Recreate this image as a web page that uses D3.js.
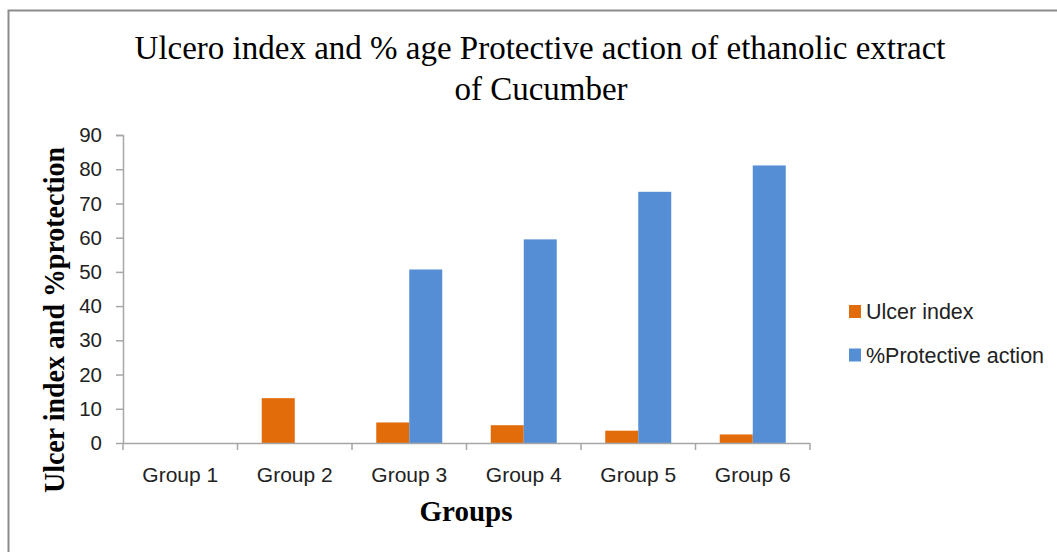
<html>
<head>
  <meta charset="UTF-8">
  <title>Ulcer index chart</title>
  <script src="https://cdn.jsdelivr.net/npm/d3@7"></script>
  <style>
    body { margin: 0; background: #fff; }
  </style>
</head>
<body>
  <svg id="chart" width="1057" height="552"></svg>
  <script>
  // ---------------------------------------------------
  // Donnees
  // ---------------------------------------------------
  var groups = ["Group 1", "Group 2", "Group 3", "Group 4", "Group 5", "Group 6"];
  var ulcerIndex = [0, 13.1, 6.0, 5.2, 3.6, 2.5];
  var protective = [0, 0, 50.7, 59.5, 73.4, 81.1];
  var seriesNames = ["Ulcer index", "%Protective action"];
  var seriesColors = ["#E36C0A", "#558ED5"];
  var yTicks = [0, 10, 20, 30, 40, 50, 60, 70, 80, 90];

  var sans = "'Liberation Sans', Arial, sans-serif";
  var serif = "'Liberation Serif', 'Times New Roman', serif";

  var svg = d3.select("#chart");

  // cadre
  svg.append("path")
    .attr("d", "M8.5,552 L8.5,10.5 L1057,10.5")
    .attr("fill", "none")
    .attr("stroke", "#8c8c8c")
    .attr("stroke-width", 2);

  var x = d3.scaleBand().domain(groups).range([123, 810]);
  var y = d3.scaleLinear().domain([0, 90]).range([443, 135]);

  // titre
  var title = svg.append("text")
    .attr("text-anchor", "middle")
    .style("font-family", serif)
    .style("font-size", "33px")
    .attr("fill", "#000");
  title.append("tspan").attr("x", 540).attr("y", 59)
    .text("Ulcero index and % age Protective action of ethanolic extract");
  title.append("tspan").attr("x", 541).attr("y", 100)
    .text("of  Cucumber");

  // barres
  var bw = 33;
  groups.forEach(function (g, i) {
    var cx = x(g) + x.bandwidth() / 2;
    [ulcerIndex[i], protective[i]].forEach(function (v, s) {
      if (v <= 0) return;
      svg.append("rect")
        .attr("x", cx - bw + s * bw)
        .attr("y", y(v))
        .attr("width", bw)
        .attr("height", y(0) - y(v))
        .attr("fill", seriesColors[s]);
    });
  });

  // axes
  var yAxis = svg.append("g")
    .attr("transform", "translate(123,0)")
    .call(d3.axisLeft(y).tickValues(yTicks).tickSize(7).tickPadding(14));
  var xAxis = svg.append("g")
    .attr("transform", "translate(0,443)")
    .call(d3.axisBottom(x).tickSize(0).tickPadding(24));

  // graduations entre groupes
  xAxis.selectAll(".sep")
    .data(d3.range(groups.length + 1))
    .enter().append("line")
    .attr("class", "sep")
    .attr("x1", function (d) { return 123 + d * x.step(); })
    .attr("x2", function (d) { return 123 + d * x.step(); })
    .attr("y1", 0).attr("y2", 7);

  svg.selectAll(".domain, .tick line, .sep")
    .attr("stroke", "#a6a6a6")
    .attr("stroke-width", 1.5);
  xAxis.select(".domain").attr("d", "M123,0.5H810");
  yAxis.select(".domain").attr("d", "M-7,135.5H0.5V443");

  yAxis.selectAll(".tick text")
    .style("font-family", sans)
    .style("font-size", "20.5px")
    .attr("fill", "#222");
  xAxis.selectAll(".tick text")
    .style("font-family", sans)
    .style("font-size", "21px")
    .attr("fill", "#222");

  // titres d'axes
  svg.append("text")
    .attr("x", 466).attr("y", 521)
    .attr("text-anchor", "middle")
    .style("font-family", serif)
    .style("font-weight", "bold")
    .style("font-size", "29px")
    .text("Groups");

  svg.append("text")
    .attr("transform", "translate(64,320) rotate(-90)")
    .attr("text-anchor", "middle")
    .attr("textLength", 346)
    .attr("lengthAdjust", "spacingAndGlyphs")
    .style("font-family", serif)
    .style("font-weight", "bold")
    .style("font-size", "29px")
    .text("Ulcer index and %protection");

  // legende
  var leg = svg.append("g").selectAll("g")
    .data(seriesNames).enter().append("g")
    .attr("transform", function (d, i) { return "translate(849," + (311.5 + i * 43.5) + ")"; });
  leg.append("rect")
    .attr("x", 0).attr("y", -6.5).attr("width", 12).attr("height", 13)
    .attr("fill", function (d, i) { return seriesColors[i]; });
  leg.append("text")
    .attr("x", 17).attr("y", 0).attr("dy", "0.36em")
    .style("font-family", sans)
    .style("font-size", "21.5px")
    .attr("fill", "#222")
    .text(function (d) { return d; });
  </script>
</body>
</html>
